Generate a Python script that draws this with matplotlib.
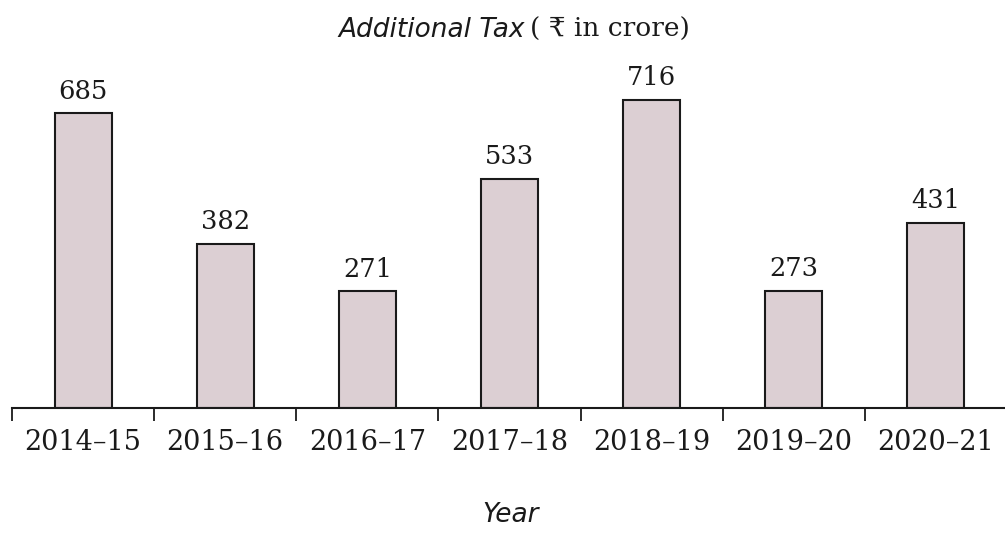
import numpy as np
import matplotlib.pyplot as plt
from matplotlib.ticker import FixedLocator

# data
years = ['2014–15', '2015–16', '2016–17', '2017–18', '2018–19', '2019–20', '2020–21']
tax = [685, 382, 271, 533, 716, 273, 431]

plt.rcParams['font.family'] = ['DejaVu Serif', 'DejaVu Sans']

fig = plt.figure(figsize=(10.05, 5.33), dpi=100)
ax = fig.add_axes([12 / 1005, 1 - 408 / 533, 995 / 1005, 344 / 533])

x = np.arange(len(years))
bars = ax.bar(x, tax, width=0.4, color='#dccfd3', edgecolor='#1a1a1a', linewidth=1.5)

for xi, v in zip(x, tax):
    ax.annotate(str(v), (xi, v), xytext=(0, 7), textcoords='offset points',
                ha='center', va='bottom', fontsize=18.5, color='#1a1a1a')

ax.set_xlim(-0.5, 6.5)
ax.set_ylim(0, 800)
for s in ['top', 'right', 'left']:
    ax.spines[s].set_visible(False)
ax.spines['bottom'].set_linewidth(1.5)
ax.spines['bottom'].set_color('#1a1a1a')
ax.set_yticks([])
ax.set_xticks(x)
ax.set_xticklabels(years, fontsize=19.5, color='#1a1a1a')
ax.xaxis.set_minor_locator(FixedLocator(np.arange(-0.5, 7, 1.0)))
ax.tick_params(axis='x', which='major', length=0, pad=15)
ax.tick_params(axis='x', which='minor', length=9, width=1.3, color='#1a1a1a', direction='out')

# title in two parts: italic sans + upright serif
fig.text(0.522, 0.944, 'Additional Tax', fontsize=19, style='italic',
         family='DejaVu Sans', ha='right', va='center', color='#1a1a1a')
fig.text(0.527, 0.944, '( ₹ in crore)', fontsize=19, ha='left', va='center', color='#1a1a1a')
fig.text(0.508, 0.034, 'Year', fontsize=19, style='italic', family='DejaVu Sans',
         ha='center', va='center', color='#1a1a1a')

plt.savefig('out.png', dpi=100)
